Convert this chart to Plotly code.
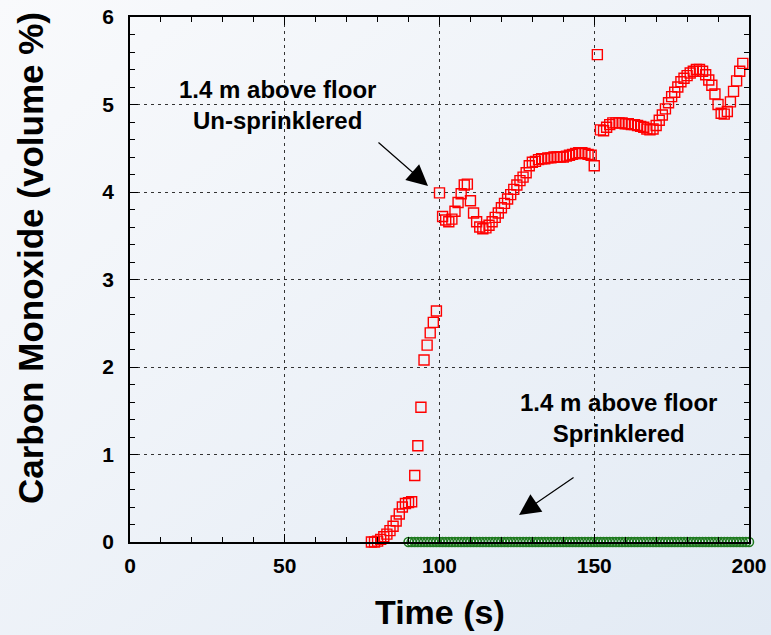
import base64
import plotly.graph_objects as go

# ---- data ----
unspr_time = [78, 79, 80, 81, 82, 83, 84, 85, 86, 87, 88, 89, 90, 91, 92, 93, 94, 95, 96, 97,
              98, 99, 100, 101, 102, 103, 104, 105, 106, 107, 108, 109, 110, 111, 112, 113, 114,
              115, 116, 117, 118, 119, 120, 121, 122, 123, 124, 125, 126, 127, 128, 129, 130,
              131, 132, 133, 134, 135, 136, 137, 138, 139, 140, 141, 142, 143, 144, 145, 146,
              147, 148, 149, 150, 151, 152, 153, 154, 155, 156, 157, 158, 159, 160, 161, 162,
              163, 164, 165, 166, 167, 168, 169, 170, 171, 172, 173, 174, 175, 176, 177, 178,
              179, 180, 181, 182, 183, 184, 185, 186, 187, 188, 189, 190, 191, 192, 193, 194,
              195, 196, 197, 198]
unspr_co = [0.00, 0.00, 0.01, 0.03, 0.06, 0.09, 0.13, 0.18, 0.24, 0.32, 0.40, 0.44, 0.45, 0.46,
            0.76, 1.10, 1.54, 2.08, 2.25, 2.39, 2.51, 2.64, 3.99, 3.72, 3.68, 3.66, 3.69, 3.78,
            3.88, 3.98, 4.08, 4.09, 3.90, 3.76, 3.66, 3.60, 3.58, 3.59, 3.62, 3.66, 3.71, 3.76,
            3.82, 3.87, 3.92, 3.97, 4.03, 4.08, 4.13, 4.17, 4.22, 4.30, 4.34, 4.35, 4.37, 4.38,
            4.38, 4.39, 4.39, 4.40, 4.40, 4.40, 4.40, 4.41, 4.42, 4.43, 4.44, 4.45, 4.45, 4.44,
            4.43, 4.42, 4.30, 5.57, 4.71, 4.70, 4.74, 4.77, 4.79, 4.79, 4.79, 4.79, 4.78, 4.78,
            4.77, 4.77, 4.76, 4.75, 4.74, 4.72, 4.71, 4.72, 4.76, 4.82, 4.88, 4.95, 5.02, 5.09,
            5.14, 5.20, 5.26, 5.30, 5.33, 5.36, 5.38, 5.40, 5.40, 5.38, 5.34, 5.28, 5.22, 5.12,
            5.00, 4.90, 4.89, 4.92, 5.03, 5.15, 5.27, 5.38, 5.47]

spr_time = [90, 91, 92, 93, 94, 95, 96, 97, 98, 99, 100, 101, 102, 103, 104, 105, 106, 107, 108,
            109, 110, 111, 112, 113, 114, 115, 116, 117, 118, 119, 120, 121, 122, 123, 124, 125,
            126, 127, 128, 129, 130, 131, 132, 133, 134, 135, 136, 137, 138, 139, 140, 141, 142,
            143, 144, 145, 146, 147, 148, 149, 150, 151, 152, 153, 154, 155, 156, 157, 158, 159,
            160, 161, 162, 163, 164, 165, 166, 167, 168, 169, 170, 171, 172, 173, 174, 175, 176,
            177, 178, 179, 180, 181, 182, 183, 184, 185, 186, 187, 188, 189, 190, 191, 192, 193,
            194, 195, 196, 197, 198, 199, 200]
spr_co = [0, 0, 0, 0, 0, 0, 0, 0, 0, 0, 0, 0, 0, 0, 0, 0, 0, 0, 0, 0, 0, 0, 0, 0, 0, 0, 0, 0,
          0, 0, 0, 0, 0, 0, 0, 0, 0, 0, 0, 0, 0, 0, 0, 0, 0, 0, 0, 0, 0, 0, 0, 0, 0, 0, 0, 0,
          0, 0, 0, 0, 0, 0, 0, 0, 0, 0, 0, 0, 0, 0, 0, 0, 0, 0, 0, 0, 0, 0, 0, 0, 0, 0, 0, 0,
          0, 0, 0, 0, 0, 0, 0, 0, 0, 0, 0, 0, 0, 0, 0, 0, 0, 0, 0, 0, 0, 0, 0, 0, 0, 0, 0]

x_ticks = [0, 50, 100, 150, 200]
y_ticks = [0, 1, 2, 3, 4, 5, 6]

x_title = "Time (s)"
y_title = "Carbon Monoxide (volume %)"
label_unspr = "1.4 m above floor<br>Un-sprinklered"
label_spr = "1.4 m above floor<br>Sprinklered"

# ---- figure ----
W, H = 771, 635
ML, MR, MT, MB = 130, 22, 17, 93
PW, PH = W - ML - MR, H - MT - MB

FONT = "Arial, 'Liberation Sans', Helvetica, sans-serif"

fig = go.Figure()
fig.add_trace(go.Scatter(
    x=unspr_time, y=unspr_co, mode="markers", cliponaxis=False,
    marker=dict(symbol="square-open", size=10, color="#ff0000",
                line=dict(width=1.4, color="#ff0000")),
    showlegend=False))
fig.add_trace(go.Scatter(
    x=spr_time, y=spr_co, mode="markers", cliponaxis=False,
    marker=dict(symbol="circle-open", size=9, color="#1e7a1e",
                line=dict(width=1.5, color="#1e7a1e")),
    showlegend=False))

axis_common = dict(
    showline=True, linecolor="black", linewidth=1.5, mirror="ticks",
    ticks="inside", ticklen=8, tickwidth=1.2, tickcolor="black",
    showgrid=True, gridcolor="#333333", gridwidth=1.2, griddash="3px,4px",
    zeroline=False, automargin=False,
    tickfont=dict(family=FONT, size=21, color="black", weight="bold"),
)

fig.update_xaxes(range=[0, 200], tickvals=x_ticks, ticktext=[str(v) for v in x_ticks],
                 ticklabelstandoff=4,
                 minor=dict(dtick=10, ticks="inside", ticklen=5, tickcolor="black", showgrid=False),
                 **axis_common)
fig.update_yaxes(range=[0, 6], tickvals=y_ticks, ticktext=[str(v) for v in y_ticks],
                 ticklabelstandoff=10,
                 minor=dict(dtick=0.2, ticks="inside", ticklen=5, tickcolor="black", showgrid=False),
                 **axis_common)

# background gradient
svg = (f"<svg xmlns='http://www.w3.org/2000/svg' width='{W}' height='{H}'>"
       "<defs><linearGradient id='g' x1='0' y1='0' x2='1' y2='1'>"
       "<stop offset='0' stop-color='#f9fafc'/><stop offset='1' stop-color='#e2eaf4'/>"
       "</linearGradient></defs>"
       f"<rect width='{W}' height='{H}' fill='url(#g)'/></svg>")
src = "data:image/svg+xml;base64," + base64.b64encode(svg.encode()).decode()
fig.add_layout_image(dict(source=src, xref="paper", yref="paper",
                          x=-ML / PW, y=1 + MT / PH, sizex=W / PW, sizey=H / PH,
                          xanchor="left", yanchor="top", sizing="stretch", layer="below"))

annos = [
    dict(text=f"<b>{x_title}</b>", xref="paper", yref="paper", x=(440 - ML) / PW,
         y=-(612 - (H - MB)) / PH, showarrow=False, xanchor="center", yanchor="middle",
         font=dict(family=FONT, size=34, color="black")),
    dict(text=f"<b>{y_title}</b>", xref="paper", yref="paper", x=(30 - ML) / PW,
         y=((H - MB) - 258) / PH, showarrow=False, textangle=-90, xanchor="center",
         yanchor="middle", font=dict(family=FONT, size=35, color="black")),
    dict(text=f"<b>{label_unspr}</b>", xref="x", yref="y", x=47.5, y=5.0,
         showarrow=False, xanchor="center", yanchor="middle",
         font=dict(family=FONT, size=24, color="black")),
    dict(text=f"<b>{label_spr}</b>", xref="x", yref="y", x=157.7, y=1.42,
         showarrow=False, xanchor="center", yanchor="middle",
         font=dict(family=FONT, size=24, color="black")),
    dict(text="", xref="x", yref="y", x=96.3, y=4.07, axref="x", ayref="y",
         ax=79.8, ay=4.58, showarrow=True, arrowhead=2, arrowsize=3.5, arrowwidth=1.2,
         arrowcolor="black", standoff=0, startstandoff=0),
    dict(text="", xref="x", yref="y", x=125.7, y=0.31, axref="x", ayref="y",
         ax=143.8, ay=0.75, showarrow=True, arrowhead=2, arrowsize=3.5, arrowwidth=1.2,
         arrowcolor="black", standoff=0, startstandoff=0),
]
for a in annos:
    fig.add_annotation(**a)

fig.update_layout(
    width=W, height=H, autosize=False,
    margin=dict(l=ML, r=MR, t=MT, b=MB, pad=0),
    paper_bgcolor="#eef2f7", plot_bgcolor="rgba(0,0,0,0)",
    showlegend=False,
    font=dict(family=FONT, color="black"),
)

fig.write_html("out.html", config={"displayModeBar": False},
               post_script="document.body.style.margin='0';document.body.style.padding='0';"
                           "document.body.style.overflow='hidden';")
